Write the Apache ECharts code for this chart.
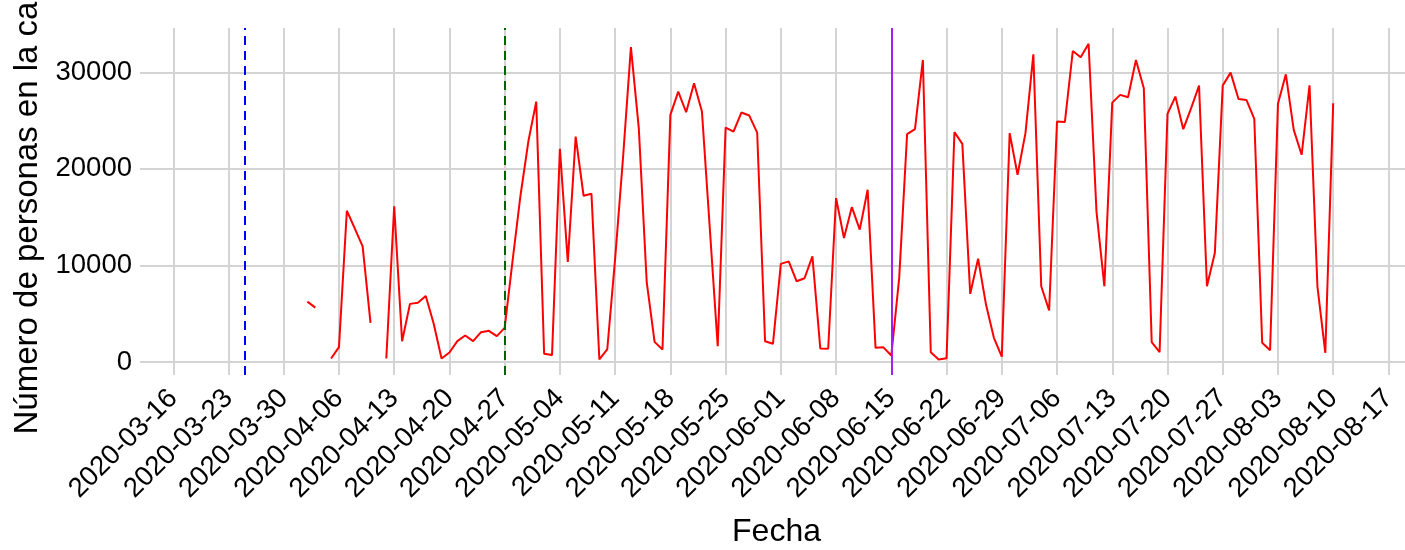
<!DOCTYPE html>
<html>
<head>
<meta charset="utf-8">
<script src="https://cdn.jsdelivr.net/npm/echarts@6/dist/echarts.min.js"></script>
<style>
  html, body { margin: 0; padding: 0; background: #ffffff; }
  #chart { width: 1405px; height: 550px; }
</style>
</head>
<body>
<div id="chart"></div>
<script>
// ---- data ----
var startDate = '2020-04-02'; // first day of the daily series
var values = [
  6260, 5640, null, 380, 1550, 15670, 13840, 11980, 4070, null,
  380, 16120, 2170, 6030, 6140, 6850, 4000, 380, 1000, 2170,
  2760, 2170, 3100, 3240, 2690, 3550, 10470, 17220, 22830, 26960,
  870, 730, 22080, 10370, 23350, 17220, 17430, 280, 1310, 10710,
  21150, 32600, 24200, 8300, 2100, 1310, 25590, 28000, 25860, 28860,
  25930, 13800, 1650, 24280, 23860, 25830, 25520, 23760, 2170, 1900,
  10170, 10430, 8370, 8680, 10950, 1420, 1390, 16980, 12850, 16050,
  13710, 17840, 1480, 1530, 690, 8720, 23590, 24110, 31270, 1030,
  280, 410, 23800, 22590, 7070, 10710, 5960, 2520, 560, 23700,
  19390, 23700, 31860, 7850, 5340, 24900, 24860, 32200, 31550, 32950,
  15600, 7850, 26860, 27660, 27420, 31270, 28350, 2070, 1030, 25690,
  27480, 24110, 26280, 28620, 7850, 11300, 28620, 29960, 27240, 27140,
  25180, 2000, 1240, 26730, 29790, 24040, 21460, 28650, 7850, 970,
  26800
];
var xTickLabels = [
  '2020-03-16','2020-03-23','2020-03-30','2020-04-06','2020-04-13','2020-04-20',
  '2020-04-27','2020-05-04','2020-05-11','2020-05-18','2020-05-25','2020-06-01',
  '2020-06-08','2020-06-15','2020-06-22','2020-06-29','2020-07-06','2020-07-13',
  '2020-07-20','2020-07-27','2020-08-03','2020-08-10','2020-08-17'
];
var yTicks = [0, 10000, 20000, 30000];
var eventDates = ['2020-03-25', '2020-04-27', '2020-06-15'];
var eventColors = ['#0000ff', '#006400', '#a020f0'];
var eventTypes = ['dashed', 'dashed', 'solid'];
var xTitle = 'Fecha';
var yTitle = 'Número de personas en la calle';

// ---- helpers ----
var DAY = 86400000;
function ts(s) { var p = s.split('-'); return Date.UTC(+p[0], +p[1] - 1, +p[2]); }
function fmt(t) {
  var d = new Date(t);
  var m = d.getUTCMonth() + 1, dd = d.getUTCDate();
  return d.getUTCFullYear() + '-' + (m < 10 ? '0' : '') + m + '-' + (dd < 10 ? '0' : '') + dd;
}
var t0 = ts(startDate);
var seriesData = values.map(function (v, i) { return [t0 + i * DAY, v]; });
var xTickVals = xTickLabels.map(ts);
var xMin = ts('2020-03-16') - 3.2 * DAY;
var xMax = ts('2020-03-16') + 156.1 * DAY;

var font = 'Liberation Sans, Arial, Helvetica, sans-serif';
var gridColor = '#d4d4d4';

var chart = echarts.init(document.getElementById('chart'), null, { renderer: 'canvas' });
chart.setOption({
  animation: false,
  backgroundColor: '#ffffff',
  grid: { left: 148, right: 0, top: 28, bottom: 175, containLabel: false, outerBoundsMode: 'none' },
  xAxis: {
    type: 'value',
    min: xMin,
    max: xMax,
    name: xTitle,
    nameLocation: 'middle',
    nameGap: 141,
    nameTextStyle: { fontFamily: font, fontSize: 32, color: '#000' },
    axisLine: { show: false },
    axisTick: { show: true, length: 8, lineStyle: { color: gridColor, width: 2 }, customValues: xTickVals },
    axisLabel: {
      customValues: xTickVals,
      rotate: 45,
      margin: 19,
      fontFamily: font,
      fontSize: 27.5,
      color: '#000',
      formatter: function (v) { return fmt(v); }
    },
    splitLine: { show: true, lineStyle: { color: gridColor, width: 2 } }
  },
  yAxis: {
    type: 'value',
    min: -1330,
    max: 34580,
    name: yTitle,
    nameLocation: 'middle',
    nameGap: 98,
    nameTextStyle: { fontFamily: font, fontSize: 33, color: '#000' },
    axisLine: { show: false },
    axisTick: { show: true, length: 8, lineStyle: { color: gridColor, width: 2 }, customValues: yTicks },
    axisLabel: {
      customValues: yTicks,
      margin: 16,
      fontFamily: font,
      fontSize: 27.5,
      color: '#000',
      formatter: function (v) { return String(Math.round(v)); }
    },
    splitLine: { show: true, lineStyle: { color: gridColor, width: 2 } }
  },
  series: [{
    type: 'line',
    data: seriesData,
    showSymbol: false,
    connectNulls: false,
    lineStyle: { color: '#ff0000', width: 2 },
    itemStyle: { color: '#ff0000' },
    z: 3,
    markLine: {
      silent: true,
      symbol: ['none', 'none'],
      label: { show: false },
      data: eventDates.map(function (d, i) {
        return { xAxis: ts(d), lineStyle: { color: eventColors[i], type: eventTypes[i] === 'dashed' ? [9, 6] : 'solid', width: 2 } };
      })
    }
  }]
});
</script>
</body>
</html>
